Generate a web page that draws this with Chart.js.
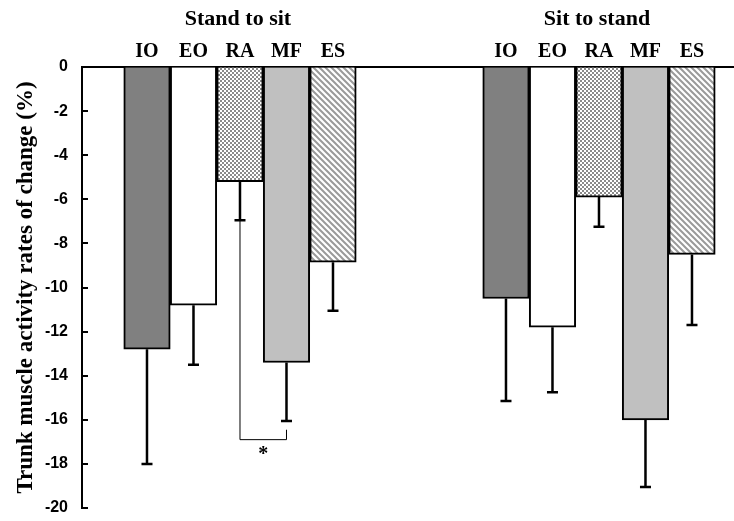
<!DOCTYPE html>
<html>
<head>
<meta charset="utf-8">
<script src="https://cdn.jsdelivr.net/npm/chart.js@4/dist/chart.umd.min.js"></script>
<style>
  html, body { margin: 0; padding: 0; background: #fff; }
</style>
</head>
<body>
<canvas id="chart" width="734" height="521"></canvas>
<script>
// tasks (groups) and muscles (bars in each group)
var tasks = ["Stand to sit", "Sit to stand"];
var muscles = ["IO", "EO", "RA", "MF", "ES"];

// mean rates of change (%), [stand to sit, sit to stand]
var meanIO = [-12.8, -10.5];
var meanEO = [-10.8, -11.8];
var meanRA = [-5.2, -5.9];
var meanMF = [-13.4, -16.0];
var meanES = [-8.85, -8.5];

// standard deviations, drawn downward only
var sdIO = [5.2, 4.65];
var sdEO = [2.7, 2.95];
var sdRA = [1.75, 1.35];
var sdMF = [2.65, 3.05];
var sdES = [2.2, 3.2];

// y axis
var yMin = -20;
var yMax = 0;
var yStep = 2;
var yTitle = "Trunk muscle activity rates of change (%)";

// significance bracket: RA vs MF in stand to sit
var sigTask = 0;
var sigFrom = "RA";
var sigTo = "MF";
var sigLevel = -16.9;
var sigToEnd = -16.45;
var sigMark = "*";

var means = [meanIO, meanEO, meanRA, meanMF, meanES];
var sds = [sdIO, sdEO, sdRA, sdMF, sdES];

function tile(w, h, draw) {
  var c = document.createElement("canvas");
  c.width = w; c.height = h;
  var g = c.getContext("2d");
  g.fillStyle = "#fff";
  g.fillRect(0, 0, w, h);
  draw(g);
  return g.createPattern(c, "repeat");
}

var checker = tile(4, 4, function (g) {
  g.fillStyle = "#8a8a8a";
  g.fillRect(0, 0, 2, 2);
  g.fillRect(2, 2, 2, 2);
});

var stripes = tile(6, 6, function (g) {
  g.strokeStyle = "#9a9a9a";
  g.lineWidth = 2;
  g.beginPath();
  g.moveTo(-1, -1); g.lineTo(7, 7);
  g.moveTo(-4, 2); g.lineTo(2, 8);
  g.moveTo(2, -4); g.lineTo(8, 2);
  g.stroke();
});

var fills = ["#808080", "#ffffff", checker, "#c0c0c0", stripes];

var datasets = muscles.map(function (m, i) {
  return {
    label: m,
    data: tasks.map(function (t, k) { return { x: k + 1, y: means[i][k] }; }),
    backgroundColor: fills[i],
    borderColor: "#000",
    borderWidth: 2,
    barThickness: 46.5
  };
});

var serif = "'Liberation Serif', 'Times New Roman', serif";

var annotate = {
  id: "annotate",
  afterDatasetsDraw: function (chart) {
    var ctx = chart.ctx;
    var ys = chart.scales.y;
    ctx.save();

    // inward tick marks on the y axis
    ctx.strokeStyle = "#000";
    ctx.lineWidth = 2;
    ys.ticks.forEach(function (t) {
      var y = Math.round(ys.getPixelForValue(t.value));
      ctx.beginPath();
      ctx.moveTo(ys.right, y);
      ctx.lineTo(ys.right + 6, y);
      ctx.stroke();
    });

    // error bars
    ctx.lineWidth = 2.5;
    muscles.forEach(function (m, i) {
      chart.getDatasetMeta(i).data.forEach(function (bar, k) {
        var yEnd = ys.getPixelForValue(means[i][k] - sds[i][k]);
        ctx.beginPath();
        ctx.moveTo(bar.x, bar.y);
        ctx.lineTo(bar.x, yEnd);
        ctx.moveTo(bar.x - 5.5, yEnd);
        ctx.lineTo(bar.x + 5.5, yEnd);
        ctx.stroke();
      });
    });

    // muscle labels and task titles
    ctx.fillStyle = "#000";
    ctx.textAlign = "center";
    ctx.textBaseline = "alphabetic";
    tasks.forEach(function (t, k) {
      ctx.font = "bold 20px " + serif;
      muscles.forEach(function (m, i) {
        var bar = chart.getDatasetMeta(i).data[k];
        ctx.fillText(m, bar.x, 57);
      });
      var first = chart.getDatasetMeta(0).data[k];
      var last = chart.getDatasetMeta(muscles.length - 1).data[k];
      ctx.font = "bold 22px " + serif;
      ctx.fillText(t, (first.x + last.x) / 2 - 2, 25);
    });

    // significance bracket
    var a = muscles.indexOf(sigFrom);
    var b = muscles.indexOf(sigTo);
    var xa = chart.getDatasetMeta(a).data[sigTask].x;
    var xb = chart.getDatasetMeta(b).data[sigTask].x;
    var ya = ys.getPixelForValue(means[a][sigTask] - sds[a][sigTask]);
    var yl = ys.getPixelForValue(sigLevel);
    var yb = ys.getPixelForValue(sigToEnd);
    ctx.lineWidth = 1;
    ctx.beginPath();
    ctx.moveTo(xa, ya);
    ctx.lineTo(xa, yl);
    ctx.lineTo(xb, yl);
    ctx.lineTo(xb, yb);
    ctx.stroke();
    ctx.font = "bold 20px " + serif;
    ctx.fillText(sigMark, (xa + xb) / 2, yl + 20);

    ctx.restore();
  }
};

new Chart(document.getElementById("chart"), {
  type: "bar",
  data: { datasets: datasets },
  options: {
    responsive: false,
    animation: false,
    devicePixelRatio: 1,
    layout: { padding: { top: 67, right: 0, bottom: 13, left: 0 } },
    plugins: { legend: { display: false }, tooltip: { enabled: false } },
    scales: {
      x: {
        type: "linear",
        position: "top",
        offset: false,
        min: 0.5599,
        max: 2.3761,
        grid: { display: false, drawTicks: false },
        ticks: { display: false },
        border: { display: true, color: "#000", width: 2 }
      },
      y: {
        min: yMin,
        max: yMax,
        ticks: {
          stepSize: yStep,
          color: "#000",
          padding: 14,
          font: { family: "'Liberation Sans', Arial, sans-serif", size: 16, weight: "bold" }
        },
        grid: { drawOnChartArea: false, drawTicks: false },
        border: { display: true, color: "#000", width: 2 },
        title: {
          display: true,
          text: yTitle,
          color: "#000",
          padding: { top: 12, bottom: 0 },
          font: { family: serif, size: 23, weight: "bold" }
        },
        afterFit: function (scale) {
          scale.width = 82;
          scale.paddingTop = 0;
          scale.paddingBottom = 0;
        }
      }
    }
  },
  plugins: [annotate]
});
</script>
</body>
</html>
